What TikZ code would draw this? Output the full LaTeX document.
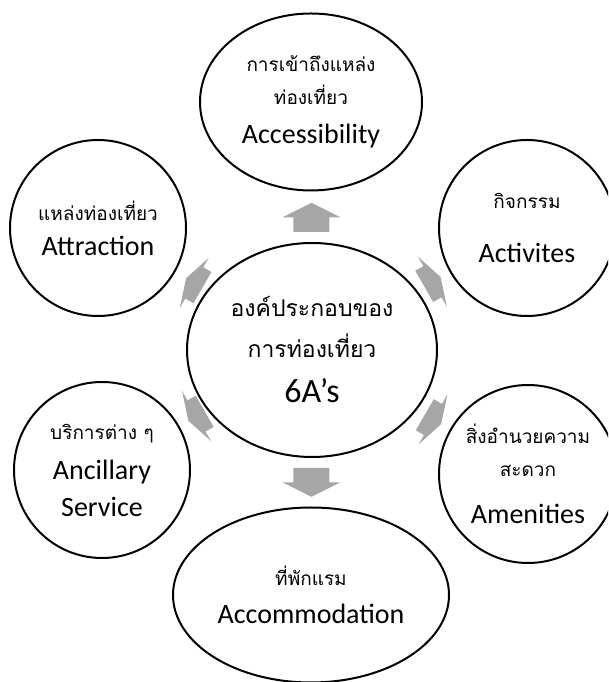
\documentclass[tikz,border=0pt]{standalone}
\usepackage{fontspec}
\setmainfont{Carlito}
\newfontfamily\thaifont[Script=Thai]{Loma}
\usetikzlibrary{calc,shapes.geometric}
\definecolor{arrowgray}{HTML}{A6A6A6}
\newcommand{\thtxt}[1]{{\thaifont\fontsize{19}{25}\selectfont #1}}
\newcommand{\thbig}[1]{{\thaifont\fontsize{23}{30}\selectfont #1}}
\def\blockarrow(#1:#2:#3){\fill[arrowgray,shift={(#1)},rotate=#2,xscale=#3] (-14.5,-18) -- (0,-18) -- (0,-29) -- (14.5,0) -- (0,29) -- (0,18) -- (-14.5,18) -- cycle;}
\tikzset{
	bubble/.style={ellipse,draw,line width=2pt,inner sep=0pt,align=center,font=\fontsize{28}{33}\selectfont},
}

\begin{document}
\begin{tikzpicture}[x=1pt,y=1pt]
		%%%%% START %%%%%
		\clip (0,0) rectangle (608,682);
		
		\node[bubble,minimum width=250,minimum height=214,font=\fontsize{34}{45}\selectfont] (ctr) at (312,332)
			{\thbig{องค์ประกอบของ}\\[-4pt]\thbig{การท่องเที่ยว}\\6A’s};
		
		\node[bubble,minimum width=222,minimum height=177] (acc) at (311,580)
			{\thtxt{การเข้าถึงแหล่ง}\\\thtxt{ท่องเที่ยว}\\[6pt]Accessibility};
		\node[bubble,minimum width=176,minimum height=176] (att) at (98,454)
			{\thtxt{แหล่งท่องเที่ยว}\\[2pt]Attraction};
		\node[bubble,minimum width=176,minimum height=176] (act) at (527,454)
			{\thtxt{กิจกรรม}\\[21pt]Activites};
		\node[bubble,minimum width=176,minimum height=176] (anc) at (102,212)
			{\thtxt{บริการต่าง ๆ}\\[7pt]Ancillary\\[4pt]Service};
		\node[bubble,minimum width=178,minimum height=178] (ame) at (528,208)
			{\thtxt{สิ่งอำนวยความ}\\\thtxt{สะดวก}\\[14pt]Amenities};
		\node[bubble,minimum width=276,minimum height=175] (aco) at (311,87)
			{\thtxt{ที่พักแรม}\\[5pt]Accommodation};
		
		% arrows out of the centre
		\foreach \o/\a/\f/\s in {acc/90/0.535/1,aco/-90/0.54/1,att/150/0.55/0.65,act/30/0.56/0.65,anc/210/0.55/0.65,ame/-30/0.56/0.65}
			\blockarrow($(ctr)!\f!(\o)$:\a:\s);
		
		%%%%% END %%%%%
	\end{tikzpicture}
\end{document}
